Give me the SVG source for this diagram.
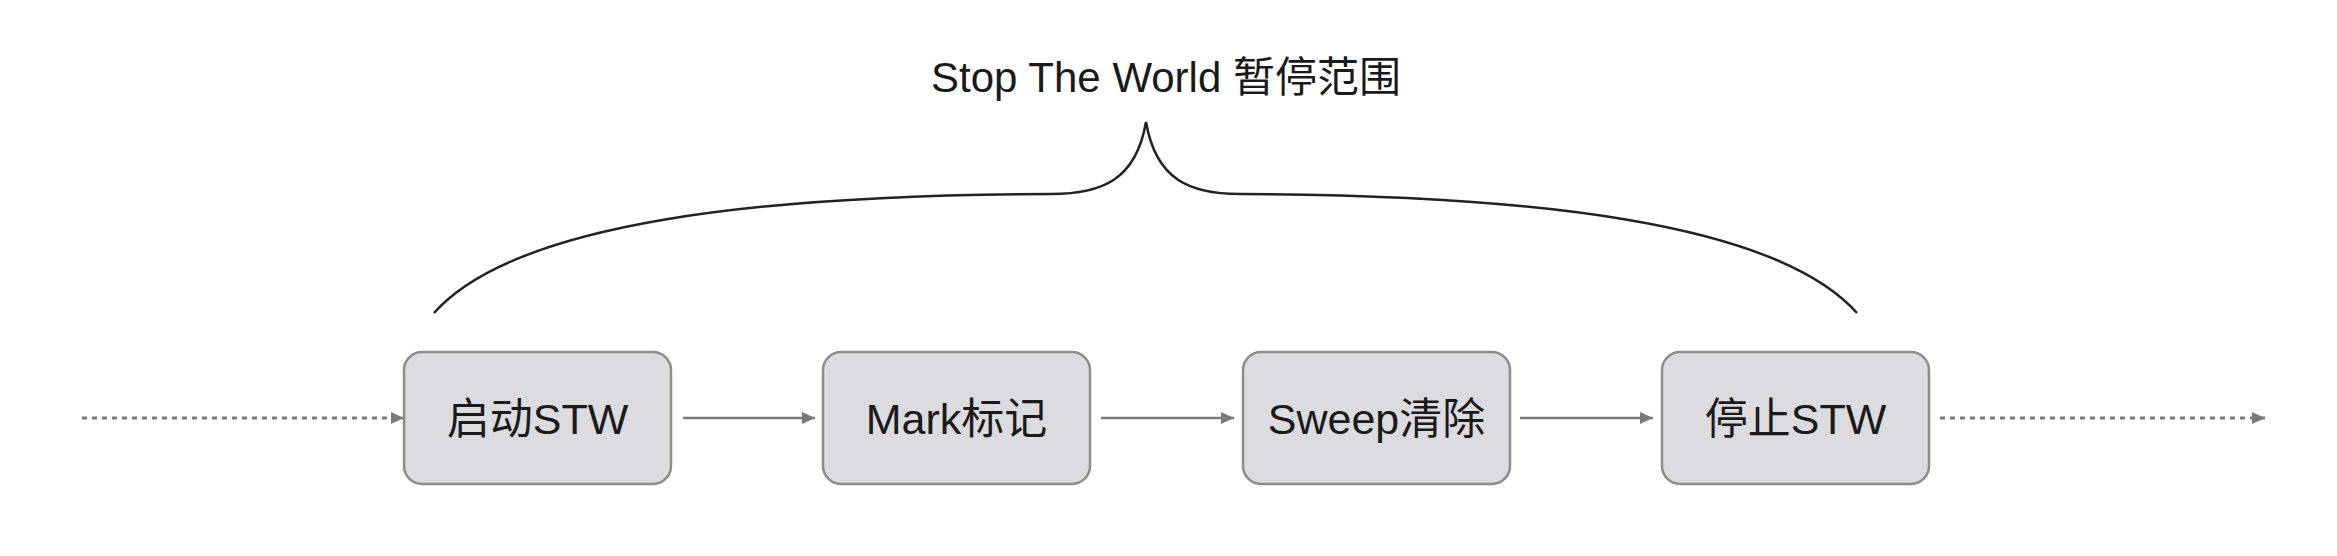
<svg xmlns="http://www.w3.org/2000/svg" width="2337" height="556" viewBox="0 0 2337 556">
<defs>
<style>
.box{fill:#dcdce0;stroke:#8c8c8c;stroke-width:2.5}
.lbl{font-family:"Liberation Sans","Noto Sans CJK SC",sans-serif;font-size:43px;fill:#1a1a1a;text-anchor:middle}
.title{font-family:"Liberation Sans","Noto Sans CJK SC",sans-serif;font-size:42px;fill:#1a1a1a;text-anchor:middle}
.solid{stroke:#7a7a7a;stroke-width:2.5;fill:none}
.dot{stroke:#7a7a7a;stroke-width:3;fill:none;stroke-dasharray:5 5}
.brace{stroke:#222;stroke-width:2.5;fill:none}
</style>
<marker id="ah" viewBox="0 0 13 12" refX="13" refY="6" markerWidth="13" markerHeight="12" markerUnits="userSpaceOnUse" orient="auto">
<path d="M0,0 L13,6 L0,12 Z" fill="#7a7a7a"/>
</marker>
</defs>
<rect width="2337" height="556" fill="#ffffff"/>
<g id="title">
<text class="title" x="1166" y="92">Stop The World 暂停范围</text>
</g>
<g id="brace">
<path class="brace" d="M434,313 C515,222 760,195 1051,194 C1102,194 1136,180 1146,122 C1156,180 1190,194 1240,194 C1531,195 1776,222 1857,313"/>
</g>
<g id="connectors">
<line class="dot" x1="82" y1="418" x2="404" y2="418" marker-end="url(#ah)"/>
<line class="solid" x1="683" y1="418" x2="815" y2="418" marker-end="url(#ah)"/>
<line class="solid" x1="1101" y1="418" x2="1234" y2="418" marker-end="url(#ah)"/>
<line class="solid" x1="1520" y1="418" x2="1653" y2="418" marker-end="url(#ah)"/>
<line class="dot" x1="1940" y1="418" x2="2265" y2="418" marker-end="url(#ah)"/>
</g>
<g id="node-start">
<rect class="box" x="404" y="352" width="267" height="132" rx="18"/>
<text class="lbl" x="537.5" y="434">启动STW</text>
</g>
<g id="node-mark">
<rect class="box" x="823" y="352" width="267" height="132" rx="18"/>
<text class="lbl" x="956.5" y="434">Mark标记</text>
</g>
<g id="node-sweep">
<rect class="box" x="1243" y="352" width="267" height="132" rx="18"/>
<text class="lbl" x="1376.5" y="434">Sweep清除</text>
</g>
<g id="node-stop">
<rect class="box" x="1662" y="352" width="267" height="132" rx="18"/>
<text class="lbl" x="1795.5" y="434">停止STW</text>
</g>
</svg>
